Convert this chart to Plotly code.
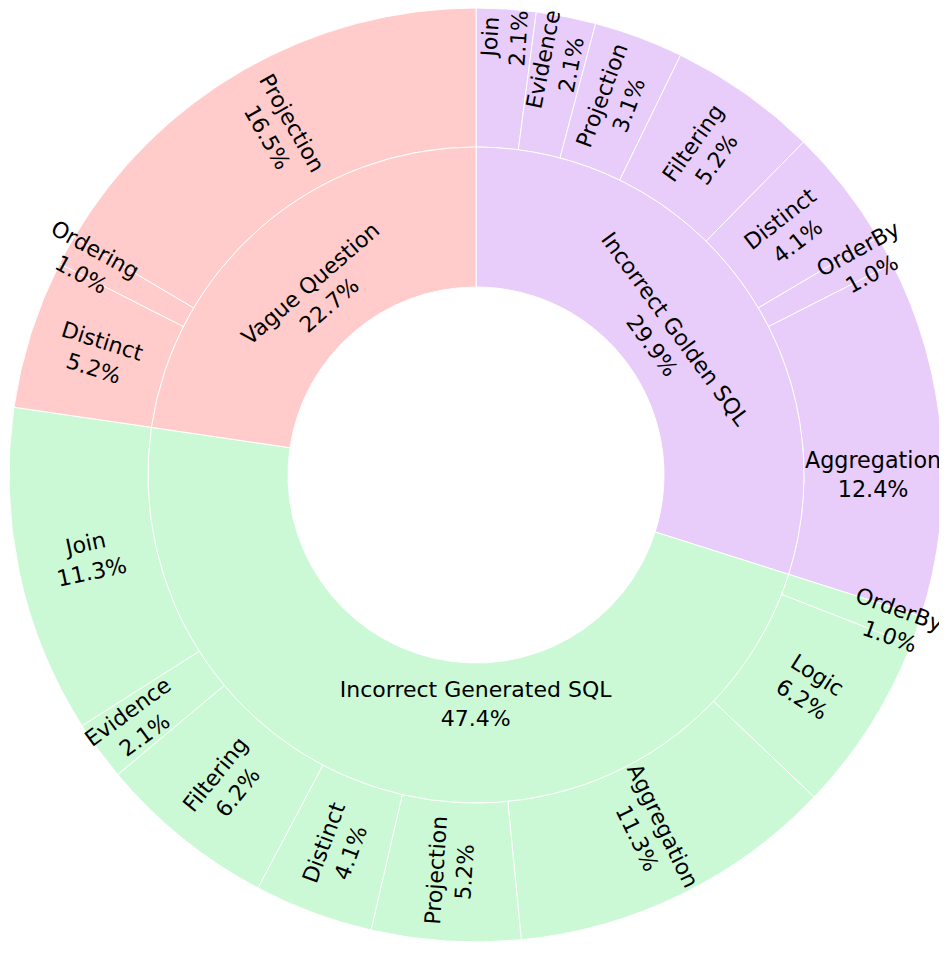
import plotly.graph_objects as go

# error categories (inner ring), counts out of 97 cases
categories = ['Incorrect Golden SQL', 'Incorrect Generated SQL', 'Vague Question']
category_counts = [29, 46, 22]
category_colors = ['#E8CCF9', '#CCF9D5', '#FFCCCB']

# sub-types (outer ring), listed clockwise from 12 o'clock
sub_labels = ['Join', 'Evidence', 'Projection', 'Filtering', 'Distinct', 'OrderBy', 'Aggregation',
              'OrderBy', 'Logic', 'Aggregation', 'Projection', 'Distinct', 'Filtering', 'Evidence', 'Join',
              'Distinct', 'Ordering', 'Projection']
sub_parents = ['Incorrect Golden SQL'] * 7 + ['Incorrect Generated SQL'] * 8 + ['Vague Question'] * 3
sub_counts = [2, 2, 3, 5, 4, 1, 12,
              1, 6, 11, 5, 4, 6, 2, 11,
              5, 1, 16]

color_of = dict(zip(categories, category_colors))
sub_colors = [color_of[p] for p in sub_parents]

W, H = 947, 959
cx, cy = 468, 467          # centre in figure pixels (page has an 8px body margin)
r_out, r_mid, r_in = 467, 328, 188
FS = 22


def dom(r):
    yb = H - cy
    return dict(x=[(cx - r) / W, min(1, (cx + r) / W)], y=[(yb - r) / H, min(1, (yb + r) / H)])


# slices spanning 3 or 9 o'clock would be snapped to horizontal text by plotly;
# give them an oversize font so the mid-angle radial placement wins (uniformtext resizes it back)
total = sum(sub_counts)
sub_sizes, acc = [], 0
for c in sub_counts:
    a0, a1 = acc / total * 360, (acc + c) / total * 360
    acc += c
    crosses = any(a0 < a < a1 for a in (90, 270))
    sub_sizes.append(80 if crosses else FS)

sub_ids = [f'{l}_{i}' for i, l in enumerate(sub_labels)]
common = dict(sort=False, direction='clockwise', rotation=0, showlegend=False, hoverinfo='skip')

fig = go.Figure()

# outer ring (fills only)
fig.add_trace(go.Pie(
    labels=sub_ids, values=sub_counts, textinfo='none',
    marker=dict(colors=sub_colors, line=dict(color='white', width=1)),
    hole=r_mid / r_out, domain=dom(r_out), **common,
))

# inner ring
fig.add_trace(go.Pie(
    labels=categories,
    values=category_counts,
    texttemplate='%{label}<br>%{percent:.1%}',
    textposition='inside',
    insidetextorientation='tangential',
    textfont=dict(size=FS, color='black'),
    marker=dict(colors=category_colors, line=dict(color='white', width=1)),
    hole=r_in / r_mid, domain=dom(r_mid), **common,
))

# outer ring labels, drawn on top so small slices' text is not covered by neighbours
fig.add_trace(go.Pie(
    labels=sub_ids, values=sub_counts,
    customdata=sub_labels,
    texttemplate='%{customdata}<br>%{percent:.1%}',
    textposition='inside',
    insidetextorientation='radial',
    textfont=dict(size=sub_sizes, color='black'),
    marker=dict(colors=['rgba(0,0,0,0)'] * len(sub_counts), line=dict(width=0)),
    hole=r_mid / r_out, domain=dom(r_out), **common,
))

fig.update_layout(
    width=W, height=H,
    margin=dict(l=0, r=0, t=0, b=0),
    paper_bgcolor='white',
    font=dict(family='DejaVu Sans'),
    uniformtext=dict(minsize=FS, mode='show'),
)
fig.write_html("out.html")
